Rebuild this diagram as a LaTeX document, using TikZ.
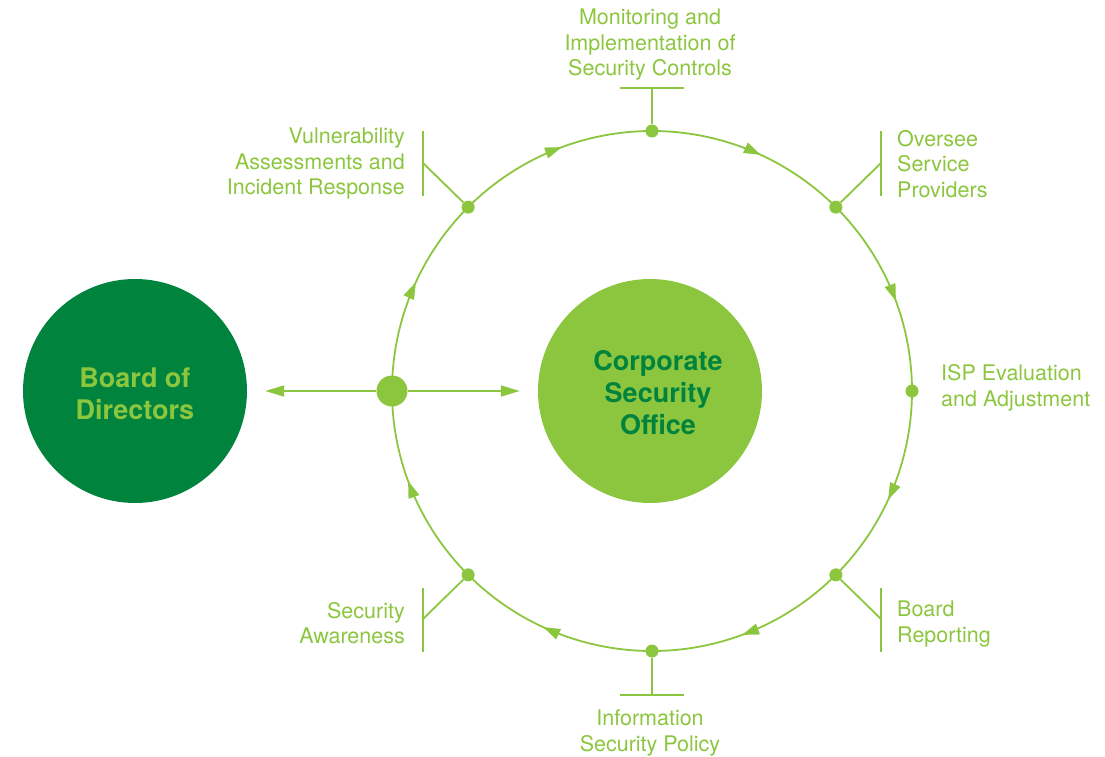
\documentclass[tikz,border=0pt]{standalone}
\usepackage{fontspec}
\setmainfont{TeX Gyre Heros}
\usetikzlibrary{arrows.meta,decorations.markings,backgrounds}
\definecolor{lg}{HTML}{8CC63F}
\definecolor{dg}{HTML}{00843D}
\begin{document}
\begin{tikzpicture}[x=1pt,y=1pt,
  ringline/.style={draw=lg, line width=1.8pt},
  leader/.style={draw=lg, line width=1.8pt},
  dot/.style={circle, fill=lg, inner sep=0pt, minimum size=13pt},
  hubdot/.style={circle, fill=lg, inner sep=0pt, minimum size=31pt},
  lab/.style={text=lg, font=\fontsize{21.5}{25.5}\selectfont, inner sep=0pt},
  bigcirc/.style={circle, inner sep=0pt, minimum size=224pt},
  bigtext/.style={align=center, inner sep=0pt, font=\fontsize{27}{32}\selectfont\bfseries},
  flowarc/.style={ringline, postaction={decorate}, decoration={markings, mark=at position 0.55 with {\arrow[color=lg]{Triangle[length=17pt,width=11pt]}}}},
  hubarrow/.style={draw=lg, line width=1.8pt, -{Triangle[length=19pt,width=11pt]}, shorten >=18pt},
  ]
\useasboundingbox (-652,-365) rectangle (453,391);

% big circles
\node[bigcirc, fill=dg] (board) at (-517,0) {};
\node[bigtext, text=lg] (boardtext) at (-517,-3) {Board of\\Directors};
\node[bigcirc, fill=lg] (cso) at (-2,0) {};
\node[bigtext, text=dg] (csotext) at (6,-2) {Corporate\\Security\\Office};

% ring dots
\node[dot] (n90) at (90:260) {};
\node[dot] (n45) at (45:260) {};
\node[dot] (n0) at (0:260) {};
\node[dot] (nm45) at (-45:260) {};
\node[dot] (nm90) at (-90:260) {};
\node[dot] (nm135) at (-135:260) {};
\node[hubdot] (hub) at (180:260) {};
\node[dot] (n135) at (135:260) {};

% ring arcs
\begin{pgfonlayer}{background}
\draw[flowarc] (n90.center) arc[start angle=90, end angle=45, radius=260];
\draw[flowarc] (n45.center) arc[start angle=45, end angle=0, radius=260];
\draw[flowarc] (n0.center) arc[start angle=0, end angle=-45, radius=260];
\draw[flowarc] (nm45.center) arc[start angle=-45, end angle=-90, radius=260];
\draw[flowarc] (nm90.center) arc[start angle=-90, end angle=-135, radius=260];
\draw[flowarc] (nm135.center) arc[start angle=-135, end angle=-180, radius=260];
\draw[flowarc] (hub.center) arc[start angle=180, end angle=135, radius=260];
\draw[flowarc] (n135.center) arc[start angle=135, end angle=90, radius=260];
\end{pgfonlayer}

% hub arrows
\draw[hubarrow] (hub) -- (board);
\draw[hubarrow] (hub) -- (cso);

% leaders: top
\coordinate (tb) at (0,303);
\coordinate (tbl) at (-32,303);
\coordinate (tbr) at (32,303);
\draw[leader] (n90) -- (tb);
\draw[leader] (tbl) -- (tbr);
\node[lab, align=center] (tlab) at (-2,346) {Monitoring and\\Implementation of\\Security Controls};

% bottom
\coordinate (bb) at (0,-304);
\coordinate (bbl) at (-32,-304);
\coordinate (bbr) at (32,-304);
\draw[leader] (nm90) -- (bb);
\draw[leader] (bbl) -- (bbr);
\node[lab, align=center] (blab) at (-2,-342) {Information\\Security Policy};

% top-left
\coordinate (tlm) at (-229,228);
\coordinate (tlt) at (-229,260);
\coordinate (tlb) at (-229,195);
\draw[leader] (n135) -- (tlm);
\draw[leader] (tlt) -- (tlb);
\node[lab, align=right, anchor=east] (tllab) at (-247,227) {Vulnerability\\Assessments and\\Incident Response};

% top-right
\coordinate (trm) at (229,228);
\coordinate (trt) at (229,260);
\coordinate (trb) at (229,195);
\draw[leader] (n45) -- (trm);
\draw[leader] (trt) -- (trb);
\node[lab, align=left, anchor=west] (trlab) at (245,227) {Oversee\\Service\\Providers};

% bottom-right
\coordinate (brm) at (229,-228);
\coordinate (brt) at (229,-197);
\coordinate (brb) at (229,-261);
\draw[leader] (nm45) -- (brm);
\draw[leader] (brt) -- (brb);
\node[lab, align=left, anchor=west] (brlab) at (245,-233) {Board\\Reporting};

% bottom-left
\coordinate (blm) at (-229,-228);
\coordinate (blt) at (-229,-197);
\coordinate (blb) at (-229,-261);
\draw[leader] (nm135) -- (blm);
\draw[leader] (blt) -- (blb);
\node[lab, align=right, anchor=east] (bllab) at (-247,-232) {Security\\Awareness};

% right
\node[lab, align=left, anchor=west] (rlab) at (289,3) {ISP Evaluation\\and Adjustment};
\end{tikzpicture}
\end{document}
